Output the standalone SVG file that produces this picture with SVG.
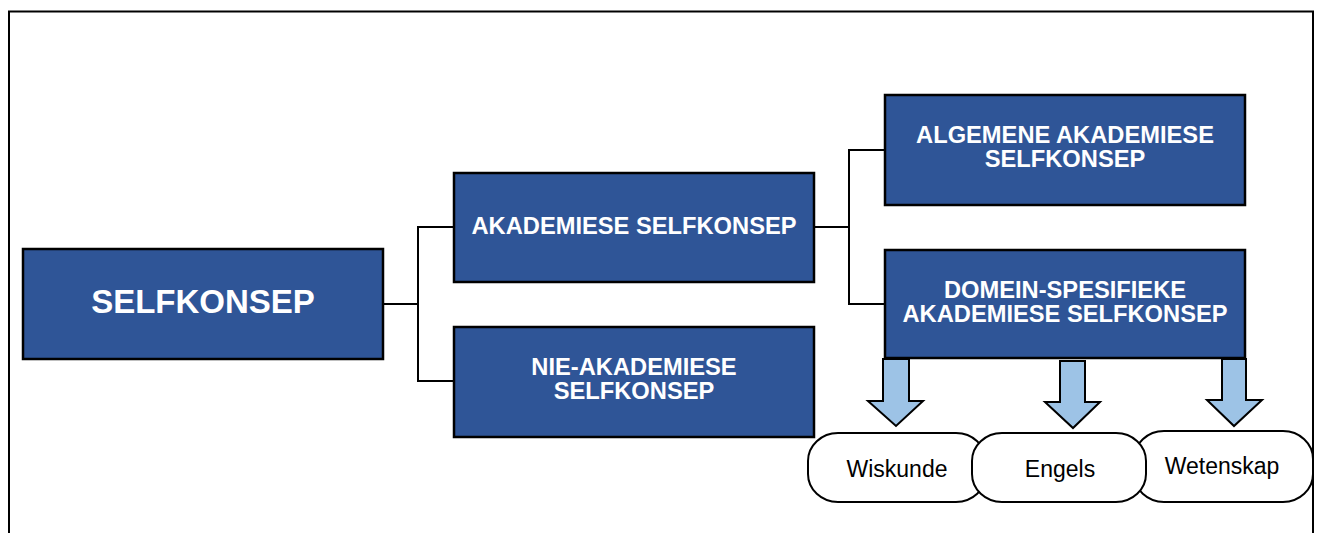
<svg xmlns="http://www.w3.org/2000/svg" width="1319" height="533" viewBox="0 0 1319 533">
<style>
.box{fill:#2F5597;stroke:#000;stroke-width:2.5}
.bt{font-family:"Liberation Sans",Arial,sans-serif;font-weight:bold;font-size:23.7px;fill:#fff;text-anchor:middle}
.big{font-size:33px}
.pill{fill:#fff;stroke:#000;stroke-width:2}
.pt{font-family:"Liberation Sans",Arial,sans-serif;font-size:23px;fill:#000;text-anchor:middle}
.arr{fill:#9DC3E6;stroke:#000;stroke-width:2;stroke-linejoin:miter}
.con{fill:none;stroke:#000;stroke-width:2}
</style>
<rect width="1319" height="533" fill="#fff"/>
<rect x="9" y="11.5" width="1304" height="540" fill="none" stroke="#000" stroke-width="2"/>
<g id="connectors">
<polyline class="con" points="383,304 418,304"/>
<polyline class="con" points="454,227 418,227 418,381 454,381"/>
<polyline class="con" points="814,227 849,227"/>
<polyline class="con" points="885,150 849,150 849,304 885,304"/>
</g>
<g id="selfkonsep">
<rect class="box" x="23" y="249" width="360" height="110"/>
<text class="bt big" x="203" y="313">SELFKONSEP</text>
</g>
<g id="akademiese">
<rect class="box" x="454" y="173" width="360" height="109"/>
<text class="bt" x="634" y="234">AKADEMIESE SELFKONSEP</text>
</g>
<g id="nie-akademiese">
<rect class="box" x="454" y="327" width="360" height="110"/>
<text class="bt" x="634" y="375">NIE-AKADEMIESE</text>
<text class="bt" x="634" y="399">SELFKONSEP</text>
</g>
<g id="algemene">
<rect class="box" x="885" y="95" width="360" height="110"/>
<text class="bt" x="1065" y="143">ALGEMENE AKADEMIESE</text>
<text class="bt" x="1065" y="167">SELFKONSEP</text>
</g>
<g id="domein">
<rect class="box" x="885" y="250" width="360" height="108"/>
<text class="bt" x="1065" y="298">DOMEIN-SPESIFIEKE</text>
<text class="bt" x="1065" y="322">AKADEMIESE SELFKONSEP</text>
</g>
<g id="arrows">
<polygon class="arr" points="883,359 909,359 909,401 923,401 896,426 868,401 883,401"/>
<polygon class="arr" points="1060,361 1085,361 1085,402 1100,402 1073,428 1045,402 1060,402"/>
<polygon class="arr" points="1222,359 1246,359 1246,400 1262,400 1234,426 1207,400 1222,400"/>
</g>
<g id="wiskunde">
<rect class="pill" x="808" y="433" width="178" height="69" rx="30" ry="28"/>
<text class="pt" x="897" y="477">Wiskunde</text>
</g>
<g id="wetenskap">
<rect class="pill" x="1134" y="431" width="179" height="71" rx="30" ry="28"/>
<text class="pt" x="1222" y="474">Wetenskap</text>
</g>
<g id="engels">
<rect class="pill" x="972" y="433" width="174" height="69" rx="30" ry="28"/>
<text class="pt" x="1060" y="477">Engels</text>
</g>
</svg>
